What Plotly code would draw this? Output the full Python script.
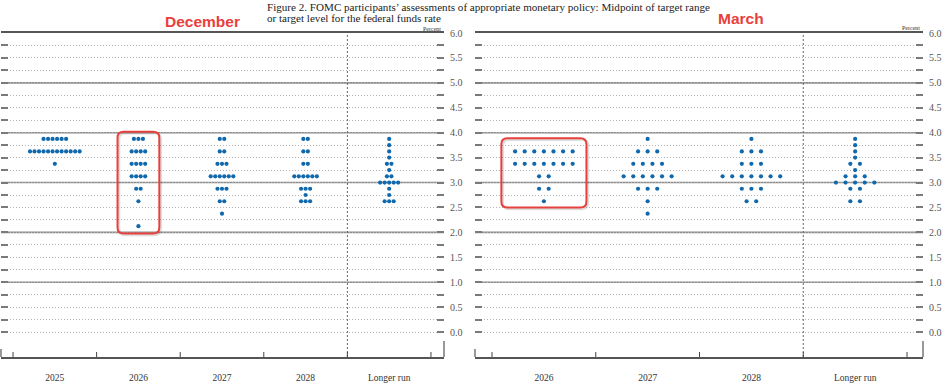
import plotly.graph_objects as go

# ---------------- data ----------------
rate_levels = [3.875, 3.75, 3.625, 3.5, 3.375, 3.25, 3.125, 3.0,
               2.875, 2.75, 2.625, 2.5, 2.375, 2.25, 2.125]

dec_years = ["2025", "2026", "2027", "2028", "Longer run"]
dec_2025 = [6, 0, 12, 0, 1, 0, 0, 0, 0, 0, 0, 0, 0, 0, 0]
dec_2026 = [3, 0, 4, 0, 4, 0, 4, 0, 2, 0, 1, 0, 0, 0, 1]
dec_2027 = [2, 0, 2, 0, 3, 0, 6, 0, 3, 0, 2, 0, 1, 0, 0]
dec_2028 = [2, 0, 2, 0, 2, 0, 6, 0, 3, 1, 3, 0, 0, 0, 0]
dec_lr = [1, 1, 1, 1, 2, 1, 2, 5, 1, 1, 3, 0, 0, 0, 0]

mar_years = ["2026", "2027", "2028", "Longer run"]
mar_2026 = [0, 0, 7, 0, 7, 0, 2, 0, 2, 0, 1, 0, 0, 0, 0]
mar_2027 = [1, 0, 3, 0, 4, 0, 6, 0, 3, 0, 1, 0, 1, 0, 0]
mar_2028 = [1, 0, 3, 0, 3, 0, 7, 0, 3, 0, 2, 0, 0, 0, 0]
mar_lr = [1, 1, 1, 1, 2, 1, 3, 5, 2, 0, 2, 0, 0, 0, 0]

y_tick_vals = [i * 0.25 for i in range(25)]          # 0.0 .. 6.0
y_solid_vals = [1, 2, 3, 4, 5]

highlight_year = "2026"   # column boxed in red in both panels

title_line1 = "Figure 2. FOMC participants\u2019 assessments of appropriate monetary policy: Midpoint of target range"
title_line2 = "or target level for the federal funds rate"

# ---------------- style ----------------
W, H = 945, 384
DOT = "#1169ad"
SERIF = "Liberation Serif"
SANS = "Liberation Sans"
RED = "#e8413d"
Y_DOM = [27 / H, 351 / H]


def dots(columns, spacing):
    xs, ys = [], []
    for ci, counts in enumerate(columns):
        for rate, n in zip(rate_levels, counts):
            for k in range(n):
                xs.append(ci + (k - (n - 1) / 2) * spacing)
                ys.append(rate)
    return xs, ys


def rounded_path(x0, x1, y0, y1, rx, ry):
    return (f"M {x0 + rx},{y0} L {x1 - rx},{y0} Q {x1},{y0} {x1},{y0 + ry} "
            f"L {x1},{y1 - ry} Q {x1},{y1} {x1 - rx},{y1} L {x0 + rx},{y1} "
            f"Q {x0},{y1} {x0},{y1 - ry} L {x0},{y0 + ry} Q {x0},{y0} {x0 + rx},{y0} Z")


fig = go.Figure()

dx, dy = dots([dec_2025, dec_2026, dec_2027, dec_2028, dec_lr], 0.054)
mx, my = dots([mar_2026, mar_2027, mar_2028, mar_lr], 0.0925)

fig.add_trace(go.Scatter(x=dx, y=dy, mode="markers", xaxis="x", yaxis="y",
                         marker=dict(color=DOT, size=4.2, line=dict(width=0)),
                         showlegend=False, hoverinfo="skip"))
fig.add_trace(go.Scatter(x=mx, y=my, mode="markers", xaxis="x2", yaxis="y2",
                         marker=dict(color=DOT, size=4.2, line=dict(width=0)),
                         showlegend=False, hoverinfo="skip"))


def x_axis(years, dom, pad_l, pad_r):
    n = len(years)
    rng = [-0.5 - pad_l, n - 0.5 + pad_r]
    return dict(domain=dom, range=rng, tickvals=list(range(n)), ticktext=years,
                ticks="", showgrid=False, zeroline=False, showline=True,
                linecolor="#555555", linewidth=2, mirror=True,
                tickfont=dict(family=SERIF, size=9.5, color="#333333"),
                ticklabelstandoff=11, fixedrange=True, automargin=False)


def y_axis():
    ytext = [("%.1f" % v) if abs(v * 2 - round(v * 2)) < 1e-9 else "" for v in y_tick_vals]
    return dict(domain=Y_DOM, range=[-0.5, 6], tickvals=y_tick_vals, ticktext=ytext,
                side="right", ticks="inside", ticklen=7, tickwidth=1.5,
                tickcolor="#7a7a7a", mirror="ticks", showline=False,
                showgrid=True, gridcolor="#b4b4b4", gridwidth=1, griddash="1px,2px",
                zeroline=False, ticklabelstandoff=5, automargin=False,
                tickfont=dict(family=SERIF, size=10, color="#555555"), fixedrange=True)


fig.update_layout(
    width=W, height=H, autosize=False,
    margin=dict(l=0, r=0, t=0, b=0, autoexpand=False),
    paper_bgcolor="white", plot_bgcolor="rgba(0,0,0,0)",
    xaxis=dict(**x_axis(dec_years, [1 / W, 444 / W], 0.144, 0.156), anchor="y"),
    yaxis=dict(**y_axis(), anchor="x"),
    xaxis2=dict(**x_axis(mar_years, [475 / W, 923 / W], 0.164, 0.154), anchor="y2"),
    yaxis2=dict(**y_axis(), anchor="x2"),
)

panels = (
    # xref, yref, years, column counts, half box width, box pad below, box pad above, px per x unit
    ("x", "y", dec_years, dec_2026, 0.25, 0.145, 0.145, 83.5),
    ("x2", "y2", mar_years, mar_2026, 0.41, 0.125, 0.265, 103.75),
)

for xr, yr, years, counts, hw, pb, pt, pxu in panels:
    # solid gridlines at whole percents
    for v in y_solid_vals:
        fig.add_shape(type="line", xref=xr + " domain", yref=yr, x0=0, x1=1, y0=v, y1=v,
                      line=dict(color="#8c8c8c", width=1.6), layer="below")
    # dashed separator before "Longer run"
    fig.add_shape(type="line", xref=xr, yref=yr + " domain",
                  x0=len(years) - 1.5, x1=len(years) - 1.5, y0=0, y1=1,
                  line=dict(color="#666666", width=1, dash="2px,2px"), layer="above")
    # small upward tick marks at category boundaries
    for i in range(len(years) + 1):
        fig.add_shape(type="line", xref=xr, yref=yr + " domain", ysizemode="pixel",
                      yanchor=0, x0=i - 0.5, x1=i - 0.5, y0=0, y1=5,
                      line=dict(color="#444444", width=1), layer="above")
    # end marks of the axis line
    for xe, ln in ((0, 8), (1, 16)):
        fig.add_shape(type="line", xref=xr + " domain", yref=yr + " domain", ysizemode="pixel",
                      yanchor=0, x0=xe, x1=xe, y0=0, y1=ln,
                      line=dict(color="#555555", width=1.2), layer="above")
    # red rounded highlight box around the 2026 column
    ci = years.index(highlight_year)
    used = [r for r, n in zip(rate_levels, counts) if n > 0]
    bx0, bx1 = ci - hw, ci + hw
    by0, by1 = min(used) - pb, max(used) + pt
    rx, ry = 6 / pxu, 6 / 49.8
    sx, sy = 1.5 / pxu, 1.5 / 49.8
    fig.add_shape(type="path", xref=xr, yref=yr,
                  path=rounded_path(bx0 + sx, bx1 + sx, by0 - sy, by1 - sy, rx, ry),
                  line=dict(color="rgba(0,0,0,0.13)", width=2.5), layer="above")
    fig.add_shape(type="path", xref=xr, yref=yr,
                  path=rounded_path(bx0, bx1, by0, by1, rx, ry),
                  line=dict(color=RED, width=2), layer="above")

ann = [
    dict(text=title_line1, x=265 / W, y=1 - 7 / H, xanchor="left", yanchor="middle",
         font=dict(family=SERIF, size=11.1, color="#222222")),
    dict(text=title_line2, x=265 / W, y=1 - 18 / H, xanchor="left", yanchor="middle",
         font=dict(family=SERIF, size=11.1, color="#222222")),
    dict(text="<b>December</b>", x=202 / W, y=1 - 21 / H, xanchor="center", yanchor="middle",
         font=dict(family=SANS, size=15.5, color=RED)),
    dict(text="<b>March</b>", x=741 / W, y=1 - 19 / H, xanchor="center", yanchor="middle",
         font=dict(family=SANS, size=15.5, color=RED)),
    dict(text="Percent", x=443 / W, y=1 - 29 / H, xanchor="right", yanchor="middle",
         font=dict(family=SERIF, size=6, color="#333333")),
    dict(text="Percent", x=922 / W, y=1 - 28 / H, xanchor="right", yanchor="middle",
         font=dict(family=SERIF, size=6, color="#333333")),
]
for a in ann:
    fig.add_annotation(xref="paper", yref="paper", showarrow=False, **a)

fig.write_html("out.html", config={"displayModeBar": False},
               post_script="document.body.style.margin='0';document.body.style.overflow='hidden';")
